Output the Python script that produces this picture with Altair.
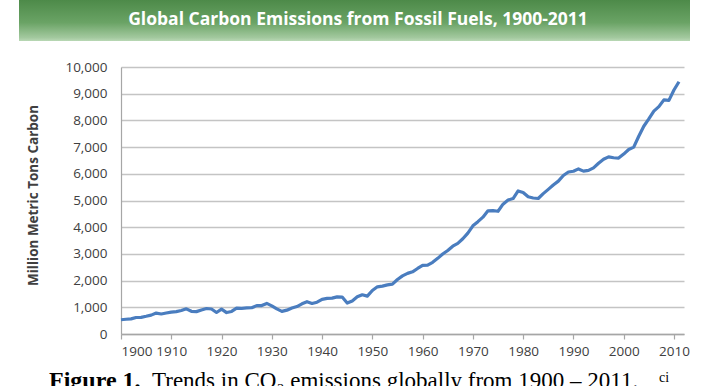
import altair as alt
import pandas as pd

# Global fossil-fuel carbon emissions, million metric tons of carbon
years = list(range(1900, 2012))
emissions = [
    534, 552, 566, 617, 624, 663, 707, 784, 750, 785,
    819, 836, 879, 943, 850, 838, 901, 955, 936, 806,
    932, 803, 845, 970, 963, 975, 983, 1062, 1065, 1145,
    1053, 940, 847, 893, 973, 1027, 1130, 1209, 1142, 1192,
    1299, 1334, 1342, 1391, 1383, 1160, 1238, 1392, 1469, 1419,
    1630, 1767, 1795, 1841, 1865, 2042, 2177, 2270, 2330, 2454,
    2569, 2580, 2686, 2833, 2995, 3130, 3288, 3393, 3566, 3780,
    4053, 4208, 4376, 4614, 4623, 4596, 4864, 5016, 5074, 5357,
    5301, 5138, 5094, 5075, 5258, 5417, 5583, 5725, 5936, 6066,
    6096, 6183, 6101, 6127, 6223, 6396, 6544, 6636, 6602, 6589,
    6739, 6912, 6998, 7406, 7781, 8057, 8349, 8515, 8770, 8749,
    9139, 9449,
]
x_ticks = list(range(1900, 2011, 10))
y_ticks = list(range(0, 10001, 1000))

title_text = "Global Carbon Emissions from Fossil Fuels, 1900-2011"
y_title = "Million Metric Tons Carbon"
caption_bold = "Figure 1."
caption_rest = "Trends in CO\u2082 emissions globally from 1900 \u2013 2011."
caption_note = "ci"

df = pd.DataFrame({"year": years, "emissions": emissions})
one = pd.DataFrame({"k": [0]})

W, H = 563, 267
LEFT, TOP = 121, 67

line = alt.Chart(df).mark_line(color="#4a7dbf", strokeWidth=3.2, strokeJoin="round").encode(
    x=alt.X(
        "year:Q",
        scale=alt.Scale(domain=[1900, 2012], nice=False, zero=False),
        axis=alt.Axis(
            values=x_ticks, format="d", title=None, grid=False,
            domainColor="#a6a6a6", domainWidth=1.5,
            tickColor="#a6a6a6", tickSize=5, tickWidth=1.2,
            labelFont="Open Sans", labelFontSize=13.5, labelColor="#404040",
            labelPadding=5,
        ),
    ),
    y=alt.Y(
        "emissions:Q",
        scale=alt.Scale(domain=[0, 10000], nice=False),
        axis=alt.Axis(
            values=y_ticks, format=",d", title=y_title,
            grid=True, gridColor="#c4c4c4", gridWidth=1.6,
            domainColor="#a6a6a6", domainWidth=1.2, ticks=False,
            labelFont="Open Sans", labelFontSize=13.5, labelColor="#404040",
            labelPadding=14,
            titleFont="Open Sans", titleFontSize=13.5, titleFontWeight="bold",
            titleColor="#404040", titleX=33 - LEFT, titleY=195 - TOP,
            titleAlign="center", titleBaseline="middle", titleAngle=-90,
        ),
    ),
)

banner = alt.Chart(one).mark_rect(
    fill=alt.Gradient(
        gradient="linear", x1=0, x2=0, y1=0, y2=1,
        stops=[
            alt.GradientStop(offset=0, color="#4d8a49"),
            alt.GradientStop(offset=0.55, color="#6aa365"),
            alt.GradientStop(offset=0.92, color="#a3c99f"),
            alt.GradientStop(offset=1, color="#b9d8b5"),
        ],
    )
).encode(
    x=alt.value(19 - LEFT), x2=alt.value(690 - LEFT),
    y=alt.value(0 - TOP), y2=alt.value(41 - TOP),
)

banner_text = alt.Chart(one).mark_text(
    text=title_text, font="Open Sans", fontSize=17.5, fontWeight="bold",
    color="white", align="center", baseline="middle",
).encode(x=alt.value(358 - LEFT), y=alt.value(20 - TOP))

cap1 = alt.Chart(one).mark_text(
    text=caption_bold, font="Liberation Serif", fontSize=24, fontWeight="bold",
    color="black", align="left", baseline="alphabetic",
).encode(x=alt.value(49 - LEFT), y=alt.value(388 - TOP))

cap2 = alt.Chart(one).mark_text(
    text=caption_rest, font="Liberation Serif", fontSize=23,
    color="black", align="left", baseline="alphabetic",
).encode(x=alt.value(152 - LEFT), y=alt.value(388 - TOP))

cap3 = alt.Chart(one).mark_text(
    text=caption_note, font="Liberation Serif", fontSize=14,
    color="black", align="left", baseline="alphabetic",
).encode(x=alt.value(659 - LEFT), y=alt.value(382 - TOP))

chart = alt.layer(banner, banner_text, line, cap1, cap2, cap3).properties(
    width=W, height=H,
    autosize=alt.AutoSizeParams(type="none"),
    padding={"left": LEFT, "top": TOP, "right": 702 - LEFT - W, "bottom": 386 - TOP - H},
    background="white",
).configure_view(stroke=None)

chart.save("out.html", embed_options={"renderer": "svg", "actions": False})
